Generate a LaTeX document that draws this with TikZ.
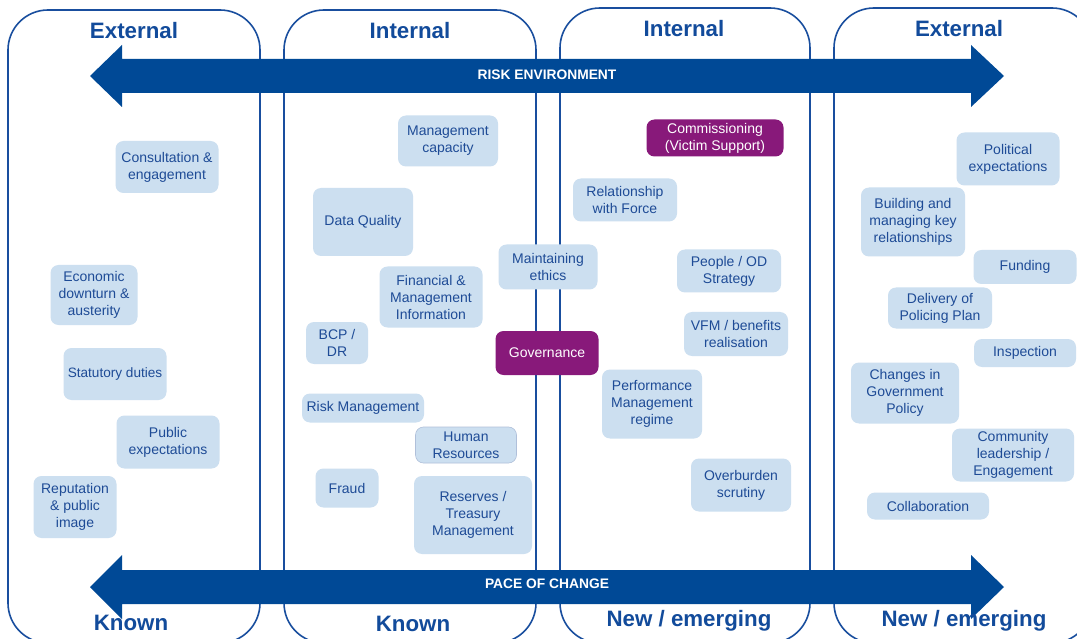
\documentclass[tikz,border=0pt]{standalone}
\usepackage{fontspec}
\setmainfont{Liberation Sans}
\definecolor{arrowblue}{RGB}{0,73,150}
\definecolor{panelblue}{RGB}{25,78,158}
\definecolor{titleblue}{RGB}{18,75,155}
\definecolor{boxfill}{RGB}{204,223,240}
\definecolor{boxtext}{RGB}{30,75,150}
\definecolor{govpurple}{RGB}{136,25,122}
\tikzset{
  panel/.style={draw=panelblue, line width=1.6pt, rounded corners=40pt},
  bigarrow/.style={fill=arrowblue, draw=none},
  title/.style={text=titleblue, font=\fontsize{22.3}{25}\selectfont\bfseries, inner sep=0pt},
  arrowlabel/.style={text=white, font=\fontsize{13.8}{16}\selectfont\bfseries, inner sep=0pt},
  riskbox/.style={fill=boxfill, rounded corners=8pt, text=boxtext, align=center, inner sep=0pt,
    font=\fontsize{14}{17}\selectfont},
  purplebox/.style={riskbox, fill=govpurple, text=white},
  sz/.style 2 args={minimum width=#1pt, minimum height=#2pt},
}
\begin{document}
\begin{tikzpicture}[x=1pt,y=-1pt]
\useasboundingbox (0,0) rectangle (1077,639);
\fill[white] (0,0) rectangle (1077,639);
% panels
\draw[panel] (8,10) rectangle (260,643);
\draw[panel] (284,10) rectangle (536,643);
\draw[panel] (560,8) rectangle (810,643);
\draw[panel] (834,8) rectangle (1092,643);
% titles
\node[title] (t1) at (134,31) {External};
\node[title] (t2) at (410,31) {Internal};
\node[title] (t3) at (684,29) {Internal};
\node[title] (t4) at (959,29) {External};
% arrows
\fill[bigarrow] (90,76) -- (122,45) -- (122,59) -- (971,59) -- (971,45) -- (1004,76) -- (971,107) -- (971,93) -- (122,93) -- (122,107) -- cycle;
\node[arrowlabel] (risk) at (547,75) {RISK ENVIRONMENT};
\fill[bigarrow] (90,587) -- (122,555) -- (122,570) -- (971,570) -- (971,555) -- (1004,587) -- (971,619) -- (971,604) -- (122,604) -- (122,619) -- cycle;
\node[arrowlabel] (pace) at (547,584) {PACE OF CHANGE};
\node[title] (b1) at (131,623) {Known};
\node[title] (b2) at (413,624) {Known};
\node[title] (b3) at (689,621) {New / emerging};
\node[title] (b4) at (964,621) {New / emerging};
% external known
\node[riskbox, sz={103}{52}] (consult) at (167,167) {Consultation \&\\engagement};
\node[riskbox, sz={87}{60}] (econ) at (94,295) {Economic\\downturn \&\\austerity};
\node[riskbox, sz={103}{52}, font=\fontsize{13.6}{16}\selectfont] (stat) at (115,374) {Statutory duties};
\node[riskbox, sz={103}{53}] (pubexp) at (168,442) {Public\\expectations};
\node[riskbox, sz={83}{62}] (reput) at (75,507) {Reputation\\\& public\\image};
% internal known
\node[riskbox, sz={100}{51}] (mgmtcap) at (448,141) {Management\\capacity};
\node[riskbox, sz={100}{68}] (dataq) at (363,222) {Data Quality};
\node[riskbox, sz={103}{61}] (finmgmt) at (431,297) {Financial \&\\Management\\Information};
\node[riskbox, sz={62}{42}] (bcp) at (337,343) {BCP /\\DR};
\node[riskbox, sz={122}{29}] (riskm) at (363,408) {Risk Management};
\node[riskbox, sz={101}{36}, draw=boxtext!35, line width=0.6pt] (hr) at (466,445) {Human\\Resources};
\node[riskbox, sz={63}{39}] (fraud) at (347,488) {Fraud};
\node[riskbox, sz={118}{78}] (reserves) at (473,515) {Reserves /\\Treasury\\Management};
% centre
\node[riskbox, sz={99}{45}] (ethics) at (548,267) {Maintaining\\ethics};
\node[purplebox, sz={103}{44}] (gov) at (547,353) {Governance};
% internal new
\node[purplebox, sz={137}{37}] (comm) at (715,138) {Commissioning\\(Victim Support)};
\node[riskbox, sz={104}{43}] (relforce) at (625,200) {Relationship\\with Force};
\node[riskbox, sz={104}{43}] (people) at (729,271) {People / OD\\Strategy};
\node[riskbox, sz={104}{44}] (vfm) at (736,334) {VFM / benefits\\realisation};
\node[riskbox, sz={100}{69}] (perf) at (652,404) {Performance\\Management\\regime};
\node[riskbox, sz={100}{53}] (overb) at (741,485) {Overburden\\scrutiny};
% external new
\node[riskbox, sz={103}{53}] (polexp) at (1008,159) {Political\\expectations};
\node[riskbox, sz={104}{69}] (build) at (913,222) {Building and\\managing key\\relationships};
\node[riskbox, sz={103}{34}] (fund) at (1025,267) {Funding};
\node[riskbox, sz={104}{41}] (deliv) at (940,308) {Delivery of\\Policing Plan};
\node[riskbox, sz={102}{28}] (insp) at (1025,353) {Inspection};
\node[riskbox, sz={108}{61}] (changes) at (905,393) {Changes in\\Government\\Policy};
\node[riskbox, sz={122}{53}] (commun) at (1013,455) {Community\\leadership /\\Engagement};
\node[riskbox, sz={122}{27}] (collab) at (928,506) {Collaboration};
\end{tikzpicture}
\end{document}
